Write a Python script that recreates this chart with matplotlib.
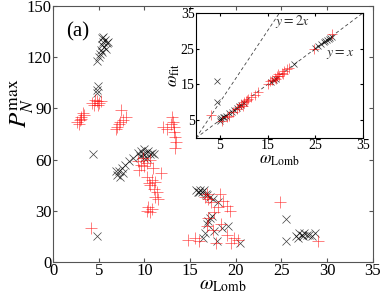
import numpy as np
import matplotlib
matplotlib.use("Agg")
import matplotlib.pyplot as plt

plt.rcParams['font.family'] = ['Liberation Serif', 'DejaVu Serif']
plt.rcParams['mathtext.fontset'] = 'stix'

# main panel: black crosses (x markers)
black_x = [5.3, 5.5, 5.7, 5.9, 5.6, 5.4, 5.8, 6.0, 5.5, 5.2, 5.0, 4.8, 5.1, 5.3,
           4.8, 4.8, 4.9, 4.4, 4.8,
           9.3, 9.6, 9.8, 10.0, 10.2, 10.4, 10.6, 9.9, 10.3, 9.5, 10.8, 11.0,
           8.8, 8.3, 7.9, 7.5, 7.2, 7.0, 6.9, 7.6, 7.3,
           15.6, 15.9, 16.1, 16.3, 16.5, 16.7, 16.0, 16.8, 17.2, 17.5, 18.1,
           17.2, 17.0, 17.4, 16.9, 16.4, 16.6, 17.9, 20.5, 19.2, 18.5, 17.6,
           25.5, 25.5, 26.6, 26.9, 27.2, 27.5, 27.8, 28.0, 28.3, 26.8, 27.4, 28.7]
black_y = [131, 129, 130, 128, 126, 127, 125, 129, 132, 124, 120, 118, 122, 123,
           99, 101, 103, 63, 15,
           64, 65, 63, 66, 64, 65, 63, 61, 61, 62, 64, 63,
           61, 59, 57, 55, 53, 51, 53, 52, 50,
           42, 41, 42, 41, 42, 40, 41, 39, 38, 37, 35,
           26, 24, 27, 22, 14, 17, 12, 11, 21, 20, 18,
           25, 12, 15, 17, 16, 17, 16, 16, 15, 14, 15, 17]

# main panel: red plus markers
red_x = [4.3, 4.5, 4.8, 5.0, 4.6, 4.9, 5.2,
         2.6, 2.9, 3.1, 3.3, 2.8, 3.0, 3.4,
         7.4, 8.0, 7.2, 7.0, 6.9, 7.3, 7.6,
         13.0, 13.1, 13.2, 13.2, 13.3, 13.4, 13.3, 12.0, 12.5, 12.9,
         9.3, 9.6, 10.0, 10.3, 10.6, 9.8, 10.9, 9.4,
         10.3, 10.8, 11.2, 10.6, 11.0, 11.4, 11.8, 10.5, 11.2, 11.5,
         10.3, 10.6, 10.8, 10.4,
         4.2,
         16.8, 17.0, 17.3, 18.3, 18.6, 18.0, 19.0, 19.4, 17.6, 17.0, 16.8,
         17.5, 18.4, 19.0, 19.8, 20.2, 15.5, 16.0, 17.8, 19.5, 14.8, 16.6,
         24.8, 29.0]
red_y = [93, 92, 94, 93, 95, 92, 94,
         82, 83, 85, 87, 81, 84, 86,
         89, 85, 81, 79, 78, 82, 83,
         85, 82, 79, 76, 73, 70, 67, 79, 78, 81,
         59, 57, 56, 58, 60, 61, 55, 54,
         50, 48, 47, 45, 43, 41, 52, 46, 38, 37,
         30, 29, 31, 32,
         20,
         40, 37, 35, 40, 36, 32, 33, 30, 29, 26, 21,
         19, 22, 16, 14, 13, 14, 12, 11, 11, 13, 38,
         35, 12]

# inset: fitted vs Lomb frequency
in_black_x = [4.5, 4.4, 5.0, 5.3, 5.6, 5.1, 5.8, 6.2, 7.0, 7.5, 8.0, 8.6, 9.0, 9.5,
              10.0, 15.8, 16.3, 16.8, 20.5, 25.0, 25.6, 26.2, 26.8, 27.4, 28.0,
              28.5, 27.0, 27.8]
in_black_y = [16, 10, 5.2, 5.5, 5.8, 4.9, 6.0, 6.3, 7.0, 7.3, 7.8, 8.5, 9.0, 9.3,
              9.8, 15.7, 16.2, 16.5, 20.8, 25.2, 25.8, 26.3, 26.9, 27.3, 28.1,
              28.4, 27.2, 27.6]
in_red_x = [3.1, 5.5, 6.5, 7.0, 7.8, 8.5, 9.0, 9.5, 10.0, 10.5, 11.0, 11.5, 12.3,
            13.0, 9.8, 10.8, 15.0, 15.5, 16.0, 16.5, 17.0, 17.5, 18.0, 18.5, 19.0,
            19.5, 16.8, 17.3, 18.2, 24.8, 28.6]
in_red_y = [6.5, 4.8, 5.8, 6.3, 7.2, 8.0, 8.6, 9.4, 10.0, 10.3, 10.9, 11.4, 12.0,
            13.0, 9.0, 10.6, 15.2, 16.0, 16.3, 16.8, 17.3, 17.5, 18.3, 18.8, 19.3,
            19.6, 16.6, 18.0, 17.9, 25.0, 29.0]

fig = plt.figure(figsize=(3.82, 2.95), dpi=100)
ax = fig.add_axes([0.139, 0.112, 0.837, 0.868])

ax.plot(black_x, black_y, 'x', color='black', ms=6, mew=0.5, alpha=0.75)
ax.plot(red_x, red_y, '+', color='red', ms=8, mew=0.5, alpha=0.7)

ax.set_xlim(0, 35)
ax.set_ylim(0, 150)
ax.set_xticks(np.arange(0, 36, 5))
ax.set_yticks(np.arange(0, 151, 30))
ax.tick_params(direction='in', top=True, right=True, labelsize=12, length=3, pad=1,
               color='#555555')
for s in ax.spines.values():
    s.set_color('#555555')
    s.set_linewidth(0.8)
ax.set_xlabel(r'$\omega_{\rm Lomb}$', fontsize=14)
ax.xaxis.set_label_coords(0.53, -0.058)
ax.set_ylabel(r'$P_N^{\rm max}$', fontsize=18)
ax.yaxis.set_label_coords(-0.055, 0.62)
ax.text(0.04, 0.88, '(a)', transform=ax.transAxes, fontsize=15)

ins = fig.add_axes([0.513, 0.532, 0.437, 0.424])
lims = np.array([0, 35])
ins.plot(lims, lims, '--', color='#444444', lw=0.6, dashes=(4, 3))
ins.plot(lims / 2, lims, '--', color='#444444', lw=0.6, dashes=(4, 3))
ins.plot(in_black_x, in_black_y, 'x', color='black', ms=5, mew=0.5, alpha=0.8)
ins.plot(in_red_x, in_red_y, '+', color='red', ms=7, mew=0.5, alpha=0.7)
ins.text(16.6, 31.5, r'$y=2x$', fontsize=10, color='#333333')
ins.text(27.2, 23.0, r'$y=x$', fontsize=10, color='#333333')
ins.set_xlim(0, 35)
ins.set_ylim(0, 35)
ins.set_xticks([5, 15, 25, 35])
ins.set_yticks([5, 15, 25, 35])
ins.tick_params(direction='in', top=True, right=True, labelsize=10, length=2.5, pad=1)
ins.set_xlabel(r'$\omega_{\rm Lomb}$', fontsize=12, labelpad=0)
ins.set_ylabel(r'$\omega_{\rm fit}$', fontsize=12, labelpad=-1)

fig.savefig('out.png', dpi=100)
